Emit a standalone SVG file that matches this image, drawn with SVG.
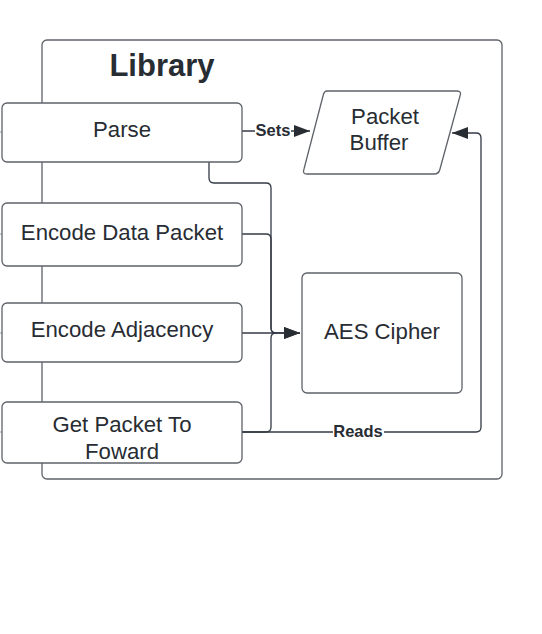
<svg xmlns="http://www.w3.org/2000/svg" width="542" height="634" viewBox="0 0 542 634">
<style>
.shape{fill:#ffffff;stroke:#5e6269;stroke-width:1.3}
.cont{fill:none;stroke:#5e6269;stroke-width:1.3}
.t{font-family:"Liberation Sans",Arial,sans-serif;font-size:22.2px;fill:#282c33;text-anchor:middle}
.title{font-family:"Liberation Sans",Arial,sans-serif;font-size:31px;font-weight:bold;fill:#282c33;text-anchor:middle}
.lbl{font-family:"Liberation Sans",Arial,sans-serif;font-size:16.5px;font-weight:bold;fill:#282c33;text-anchor:middle}
.c{fill:none;stroke:#333a45;stroke-width:1.3}
.stub{stroke:#9a9ea4;stroke-width:1}
</style>
<defs>
<marker id="arrL" viewBox="0 0 16 12" refX="16" refY="6" markerWidth="16" markerHeight="12" markerUnits="userSpaceOnUse" orient="auto">
<path d="M0,0 L16,6 L0,12 Z" fill="#282c33"/>
</marker>
</defs>
<g id="library">
<rect class="cont" x="42" y="40" width="460" height="439" rx="5"/>
<text class="title" x="162" y="76">Library</text>
</g>
<g id="stubs">
<line class="stub" x1="0" y1="132" x2="2" y2="132"/>
<line class="stub" x1="0" y1="234" x2="2" y2="234"/>
<line class="stub" x1="0" y1="333" x2="2" y2="333"/>
<line class="stub" x1="0" y1="432" x2="2" y2="432"/>
</g>
<g id="connectors">
<path class="c" d="M242,131 H310" marker-end="url(#arrL)"/>
<rect x="255" y="122" width="36" height="18" fill="#ffffff"/>
<text class="lbl" x="273" y="136">Sets</text>
<path class="c" d="M209,162 V178 Q209,183 214,183 H266 Q271,183 271,188 V328 Q271,333 276,333 H300" marker-end="url(#arrL)"/>
<path class="c" d="M242,234 H266 Q271,234 271,239 V328 Q271,333 276,333"/>
<path class="c" d="M242,333 H300" marker-end="url(#arrL)"/>
<path class="c" d="M242,432 H266 Q271,432 271,427 V338 Q271,333 276,333"/>
<path class="c" d="M242,432 H476 Q481,432 481,427 V138 Q481,133 476,133 H452" marker-end="url(#arrL)"/>
<rect x="333" y="423" width="51" height="18" fill="#ffffff"/>
<text class="lbl" x="358" y="437">Reads</text>
</g>
<g id="parse">
<rect class="shape" x="2" y="103" width="240" height="59" rx="5"/>
<text class="t" x="122" y="137">Parse</text>
</g>
<g id="encode-data-packet">
<rect class="shape" x="2" y="203" width="240" height="63" rx="5"/>
<text class="t" x="122" y="240">Encode Data Packet</text>
</g>
<g id="encode-adjacency">
<rect class="shape" x="2" y="303" width="240" height="59" rx="5"/>
<text class="t" x="122" y="337">Encode Adjacency</text>
</g>
<g id="get-packet">
<rect class="shape" x="2" y="402" width="240" height="61" rx="5"/>
<text class="t" x="122" y="432">Get Packet To</text>
<text class="t" x="122" y="459">Foward</text>
</g>
<g id="packet-buffer">
<path class="shape" d="M327,91 H457 Q462,91 460,96 L440,169 Q439,174 434,174 H307 Q302,174 304,169 L323,96 Q324,91 327,91 Z"/>
<text class="t" x="385" y="124">Packet</text>
<text class="t" x="379" y="150">Buffer</text>
</g>
<g id="aes-cipher">
<rect class="shape" x="302" y="273" width="160" height="120" rx="5"/>
<text class="t" x="382" y="339">AES Cipher</text>
</g>
</svg>
